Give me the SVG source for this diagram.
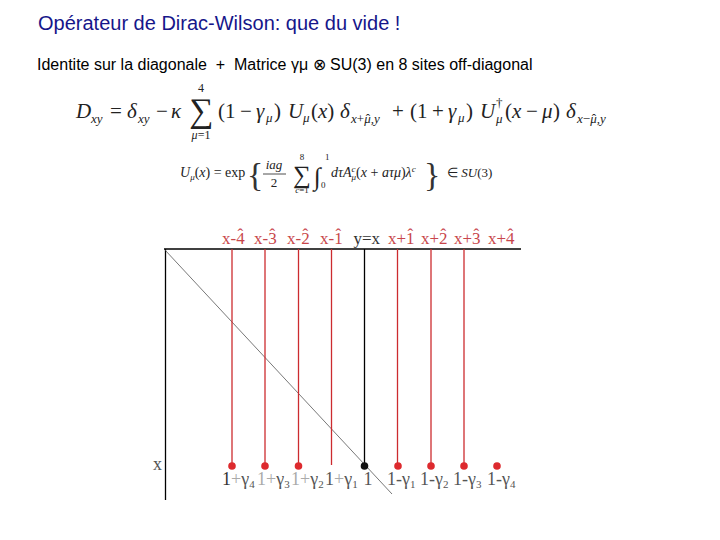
<svg xmlns="http://www.w3.org/2000/svg" width="720" height="540" viewBox="0 0 720 540">
<style>
.title{font-family:"Liberation Sans",Arial,sans-serif;font-size:20px;fill:#16168a}
.sub{font-family:"Liberation Sans",Arial,sans-serif;font-size:16px;fill:#000}
.eq{font-family:"Liberation Serif","Times New Roman",serif;fill:#222}
.it{font-style:italic}
.top{font-family:"Liberation Serif","Times New Roman",serif;font-size:17px;fill:#c8464a}
.hat{font-family:"Liberation Serif","Times New Roman",serif;font-size:17px;fill:#c8464a;text-anchor:middle}
.topk{fill:#333}
.bot{font-family:"Liberation Serif","Times New Roman",serif;font-size:18px;fill:#555}
.lt{fill:#aaa}
.sb{font-size:11px}
.red{stroke:#cc2b2f;stroke-width:1.3}
.dot{fill:#dd2a2e}
</style>
<rect width="720" height="540" fill="#fff"/>
<text class="title" x="38" y="30">Opérateur de Dirac-Wilson: que du vide !</text>
<text class="sub" x="37" y="70" xml:space="preserve">Identite sur la diagonale  +  Matrice γμ ⊗ SU(3) en 8 sites off-diagonal</text>

<g id="eq1" class="eq" font-size="21">
<text x="76" y="118" class="it">D</text><text x="91" y="123" font-size="13" class="it">xy</text>
<text x="110" y="118">=</text>
<text x="127" y="118" class="it">δ</text><text x="138" y="123" font-size="13" class="it">xy</text>
<text x="156" y="118">−</text>
<text x="171" y="118" class="it">κ</text>
<text x="201" y="122" font-size="34" text-anchor="middle">∑</text>
<text x="201" y="92" font-size="12" text-anchor="middle">4</text>
<text x="201" y="139" font-size="12" text-anchor="middle"><tspan class="it">μ</tspan>=1</text>
<text x="218" y="118">(</text><text x="225" y="118">1</text><text x="240" y="118">−</text><text x="256" y="118" class="it">γ</text><text x="266" y="122" font-size="13" class="it">μ</text><text x="274" y="118">)</text>
<text x="288" y="118" class="it">U</text><text x="303" y="122" font-size="13" class="it">μ</text><text x="311" y="118">(<tspan class="it">x</tspan>)</text>
<text x="340" y="118" class="it">δ</text><text x="351" y="123" font-size="13" class="it">x<tspan font-style="normal">+</tspan>μ,y</text><text x="368" y="123" font-size="13" text-anchor="middle">ˆ</text>
<text x="392" y="118">+</text>
<text x="410" y="118">(</text><text x="417" y="118">1</text><text x="432" y="118">+</text><text x="448" y="118" class="it">γ</text><text x="458" y="122" font-size="13" class="it">μ</text><text x="466" y="118">)</text>
<text x="480" y="118" class="it">U</text>
<text x="496" y="107" font-size="13">†</text>
<text x="496" y="123" font-size="13" class="it">μ</text>
<text x="505" y="118">(<tspan class="it">x</tspan></text><text x="526" y="118">−</text><text x="542" y="118" class="it">μ</text><text x="553" y="118">)</text>
<text x="566" y="118" class="it">δ</text><text x="577" y="123" font-size="13" class="it">x<tspan font-style="normal">−</tspan>μ,y</text><text x="594" y="123" font-size="13" text-anchor="middle">ˆ</text>
</g>

<g id="eq2" class="eq" font-size="14">
<text x="180" y="177" class="it">U<tspan font-size="9" dy="3">μ</tspan><tspan dy="-3" font-style="normal">(</tspan>x<tspan font-style="normal">) = exp</tspan></text>
<text x="247" y="186" font-size="34" fill="#333">{</text>
<text x="274" y="169" text-anchor="middle" class="it" font-size="13">iag</text>
<line x1="263" y1="174" x2="286" y2="174" stroke="#222" stroke-width="0.8"/>
<text x="274" y="187" text-anchor="middle" font-size="13">2</text>
<text x="302" y="183" font-size="25" text-anchor="middle">∑</text>
<text x="302" y="160" font-size="9" text-anchor="middle">8</text>
<text x="302" y="193" font-size="9" text-anchor="middle"><tspan class="it">c</tspan>=1</text>
<text x="314" y="185" font-size="25" class="it">∫</text>
<text x="325" y="160" font-size="9">1</text>
<text x="321" y="188" font-size="9">0</text>
<text x="331" y="177" class="it">dτA<tspan font-size="9" dy="-5">c</tspan><tspan font-size="9" dx="-4" dy="8">μ</tspan><tspan dy="-3" font-style="normal">(</tspan>x<tspan font-style="normal"> + </tspan>aτμ<tspan font-style="normal">)</tspan>λ<tspan font-size="9" dy="-5">c</tspan></text>
<text x="424" y="186" font-size="34" fill="#333">}</text>
<text x="447" y="177" font-size="13">∈ <tspan class="it">SU</tspan>(3)</text>
</g>

<g id="frame" fill="none">
<line x1="164" y1="249" x2="521" y2="249" stroke="#000" stroke-width="1.3"/>
<line x1="165.5" y1="249" x2="165.5" y2="500" stroke="#000" stroke-width="1.3"/>
<line x1="165" y1="250" x2="392" y2="494" stroke="#555" stroke-width="0.8"/>
</g>

<g id="connectors">
<line class="red" x1="232" y1="249" x2="232" y2="466"/>
<line class="red" x1="265" y1="249" x2="265" y2="466"/>
<line class="red" x1="298.5" y1="249" x2="298.5" y2="466"/>
<line class="red" x1="331.5" y1="249" x2="331.5" y2="465"/>
<line x1="364.5" y1="249" x2="364.5" y2="466" stroke="#000" stroke-width="1.3"/>
<line class="red" x1="397.5" y1="249" x2="397.5" y2="466"/>
<line class="red" x1="431" y1="249" x2="431" y2="466"/>
<line class="red" x1="464" y1="249" x2="464" y2="466"/>
</g>

<g id="dots">
<circle class="dot" cx="232" cy="466" r="3.8"/>
<circle class="dot" cx="265" cy="466" r="3.8"/>
<circle class="dot" cx="298.5" cy="466" r="3.8"/>
<circle cx="364.5" cy="466" r="3.8" fill="#111"/>
<circle class="dot" cx="398" cy="466" r="3.8"/>
<circle class="dot" cx="431" cy="466" r="3.8"/>
<circle class="dot" cx="464" cy="466" r="3.8"/>
<circle class="dot" cx="497" cy="466" r="3.8"/>
</g>

<g id="top-labels">
<text class="top" x="222" y="244">x-4</text><text class="hat" x="240.4" y="240">ˆ</text>
<text class="top" x="254" y="244">x-3</text><text class="hat" x="272.4" y="240">ˆ</text>
<text class="top" x="287" y="244">x-2</text><text class="hat" x="305.4" y="240">ˆ</text>
<text class="top" x="320" y="244">x-1</text><text class="hat" x="338.4" y="240">ˆ</text>
<text class="top topk" x="353.5" y="244">y=x</text>
<text class="top" x="388" y="244">x+1</text><text class="hat" x="410.3" y="240">ˆ</text>
<text class="top" x="421" y="244">x+2</text><text class="hat" x="443.3" y="240">ˆ</text>
<text class="top" x="454" y="244">x+3</text><text class="hat" x="476.3" y="240">ˆ</text>
<text class="top" x="488" y="244">x+4</text><text class="hat" x="510.3" y="240">ˆ</text>
</g>

<g id="bottom-labels">
<text class="bot" x="153" y="470" fill="#444" font-size="16">x</text>
<text class="bot" x="222" y="485"><tspan fill="#333">1</tspan><tspan class="lt">+</tspan>γ<tspan class="sb" dy="3">4</tspan></text>
<text class="bot" x="257" y="485"><tspan class="lt">1+</tspan>γ<tspan class="sb" dy="3">3</tspan></text>
<text class="bot" x="291" y="485"><tspan class="lt">1+</tspan>γ<tspan class="sb" dy="3">2</tspan></text>
<text class="bot" x="325" y="485">1<tspan class="lt">+</tspan>γ<tspan class="sb" dy="3">1</tspan></text>
<text class="bot" x="368" y="485" fill="#222" text-anchor="middle">1</text>
<text class="bot" x="387" y="485">1-γ<tspan class="sb" dy="3">1</tspan></text>
<text class="bot" x="420" y="485">1-γ<tspan class="sb" dy="3">2</tspan></text>
<text class="bot" x="453" y="485">1-γ<tspan class="sb" dy="3">3</tspan></text>
<text class="bot" x="487" y="485">1-γ<tspan class="sb" dy="3">4</tspan></text>
</g>
</svg>
